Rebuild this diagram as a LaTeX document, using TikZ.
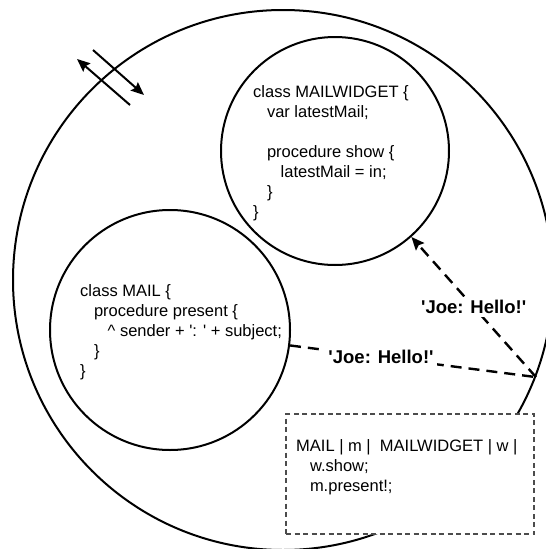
\documentclass[tikz,border=0pt]{standalone}
\usepackage{fontspec}
\setmainfont{Liberation Sans}
\usetikzlibrary{arrows.meta}
\begin{document}
\begin{tikzpicture}[x=1pt,y=-1pt,
  ring/.style={draw, line width=2pt, circle, inner sep=0pt},
  code/.style={align=left, inner sep=0pt, anchor=north west, font=\fontsize{16.5}{20}\selectfont},
  msg/.style={line width=2.4pt, dash pattern=on 11pt off 7pt},
  lbl/.style={fill=white, inner sep=3pt, font=\fontsize{18.5}{20}\selectfont\bfseries},
  tip/.style={-{Stealth[length=13pt,width=11pt,inset=2pt]}},
  scratch/.style={draw=black!70, line width=1.2pt, dash pattern=on 5pt off 3.5pt, fill=white, inner sep=0pt, minimum width=248pt, minimum height=120pt},
  flow/.style={line width=2pt}
]
\clip (0,0) rectangle (546,549);
\fill[white] (0,0) rectangle (546,549);
% outer world
\node[ring, minimum size=540pt] (world) at (283,280) {};
% objects
\node[ring, minimum size=228pt] (mw) at (335,151) {};
\node[ring, minimum size=240pt] (mail) at (170,330) {};
\node[code] (mwtext) at (253,85.7) {class MAILWIDGET \{\\
\hspace*{13.8pt}var latestMail;\\[20pt]
\hspace*{13.8pt}procedure show \{\\
\hspace*{27.5pt}latestMail = in;\\
\hspace*{13.8pt}\}\\
\}};
\node[code] (mailtext) at (80,284) {class MAIL \{\\
\hspace*{13.8pt}procedure present \{\\
\hspace*{27.5pt}\textasciicircum\ sender + \textquotesingle: \textquotesingle\ + subject;\\
\hspace*{13.8pt}\}\\
\}};
% workspace box
\node[scratch] (box) at (410,474) {};
\node[code] (boxtext) at (296,439.7) {MAIL | m |\ \ MAILWIDGET | w |\\
\hspace*{13.8pt}w.show;\\
\hspace*{13.8pt}m.present!;};
% messages
\coordinate (j) at (world.-21.4);
\draw[msg] (mail) -- node[lbl, pos=0.37] (l2) {\textquotesingle Joe: Hello!\textquotesingle} (j);
\draw[msg, tip] (j) -- node[lbl, pos=0.5] (l1) {\textquotesingle Joe: Hello!\textquotesingle} (mw);
% double arrow across boundary
\coordinate (a1) at (77,59);
\coordinate (a2) at (130,105);
\coordinate (b1) at (93,50);
\coordinate (b2) at (144,95);
\draw[flow, tip] (a2) -- (a1);
\draw[flow, tip] (b1) -- (b2);
\end{tikzpicture}
\end{document}
